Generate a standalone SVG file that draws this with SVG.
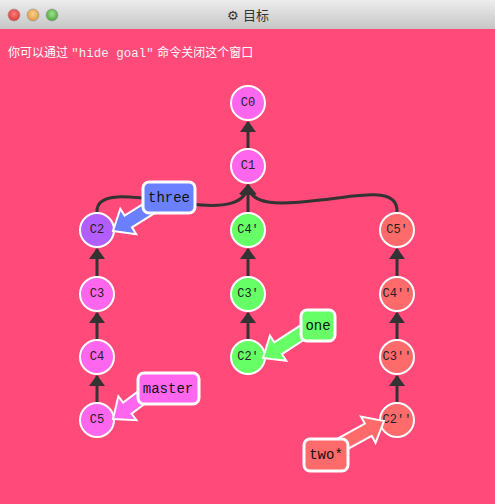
<svg xmlns="http://www.w3.org/2000/svg" width="495" height="504" viewBox="0 0 495 504">
<defs>
<linearGradient id="bar" x1="0" y1="0" x2="0" y2="1"><stop offset="0" stop-color="#ededed"/><stop offset="1" stop-color="#c6c6c6"/></linearGradient>
<radialGradient id="red" cx="0.5" cy="0.4" r="0.6"><stop offset="0" stop-color="#ff7a7a"/><stop offset="1" stop-color="#d93a3a"/></radialGradient>
<radialGradient id="yel" cx="0.5" cy="0.4" r="0.6"><stop offset="0" stop-color="#ffd08a"/><stop offset="1" stop-color="#d99a40"/></radialGradient>
<radialGradient id="grn" cx="0.5" cy="0.4" r="0.6"><stop offset="0" stop-color="#9be38a"/><stop offset="1" stop-color="#4ba43b"/></radialGradient>
<marker id="ah" viewBox="0 0 11 16" refX="10" refY="8" markerWidth="11" markerHeight="16" markerUnits="userSpaceOnUse" orient="auto">
<path d="M0,0 L11,8 L0,16 Z" fill="#333"/>
</marker>
<path id="fat" d="M0,0 L-18,-15 L-18,-7 L-58,-7 L-58,7 L-18,7 L-18,15 Z"/>
</defs>
<style>
.n{stroke:#fff;stroke-width:2}
.nt{font-family:"Liberation Mono","DejaVu Sans Mono",monospace;font-size:12px;fill:#222;text-anchor:middle;dominant-baseline:central}
.e{stroke:#333;stroke-width:3;fill:none}
.b{stroke:#fff;stroke-width:3}
.bt{font-family:"Liberation Mono","DejaVu Sans Mono",monospace;font-size:14px;fill:#111;text-anchor:middle;dominant-baseline:central}
.fa{stroke:#fff;stroke-width:2;stroke-linejoin:miter}
</style>
<rect width="495" height="504" fill="#ff4a7a"/>
<rect width="495" height="29" fill="url(#bar)"/>
<circle cx="14" cy="15" r="6" fill="url(#red)" stroke="#999" stroke-width="0.7"/>
<circle cx="33" cy="15" r="6" fill="url(#yel)" stroke="#999" stroke-width="0.7"/>
<circle cx="52" cy="15" r="6" fill="url(#grn)" stroke="#999" stroke-width="0.7"/>
<text x="248" y="20" font-family="'DejaVu Sans','Noto Sans CJK SC',sans-serif" font-size="13" fill="#333" text-anchor="middle">⚙ 目标</text>
<text x="8" y="57" font-family="'Liberation Sans','Noto Sans CJK SC',sans-serif" font-size="12" fill="#fff">你可以通过 <tspan font-family="'Liberation Mono',monospace" font-size="12.5" fill="#f0f0f0">"hide goal"</tspan> 命令关闭这个窗口</text>

<g id="connectors">
<path class="e" d="M248,148 L248,122" marker-end="url(#ah)"/>
<path class="e" d="M97,276 L97,249" marker-end="url(#ah)"/>
<path class="e" d="M97,339 L97,313" marker-end="url(#ah)"/>
<path class="e" d="M97,402 L97,376" marker-end="url(#ah)"/>
<path class="e" d="M248,212 L248,185" marker-end="url(#ah)"/>
<path class="e" d="M248,276 L248,249" marker-end="url(#ah)"/>
<path class="e" d="M248,339 L248,313" marker-end="url(#ah)"/>
<path class="e" d="M397,276 L397,249" marker-end="url(#ah)"/>
<path class="e" d="M397,339 L397,313" marker-end="url(#ah)"/>
<path class="e" d="M397,402 L397,376" marker-end="url(#ah)"/>
<path class="e" d="M97,212 C96,188 140,198 190,204 C225,208 246,204 248,185" marker-end="url(#ah)"/>
<path class="e" d="M397,212 C398,186 360,196 320,200 C280,205 250,206 248,185" marker-end="url(#ah)"/>
</g>

<g id="C0"><circle class="n" cx="248" cy="103" r="17" fill="#ff66ee"/><text class="nt" x="248" y="103">C0</text></g>
<g id="C1"><circle class="n" cx="248" cy="166" r="17" fill="#ff66ee"/><text class="nt" x="248" y="166">C1</text></g>
<g id="C2"><circle class="n" cx="97" cy="230" r="17" fill="#b25eff"/><text class="nt" x="97" y="230">C2</text></g>
<g id="C3"><circle class="n" cx="97" cy="294" r="17" fill="#ff66ee"/><text class="nt" x="97" y="294">C3</text></g>
<g id="C4"><circle class="n" cx="97" cy="357" r="17" fill="#ff66ee"/><text class="nt" x="97" y="357">C4</text></g>
<g id="C5"><circle class="n" cx="97" cy="420" r="17" fill="#ff66ee"/><text class="nt" x="97" y="420">C5</text></g>
<g id="C4p"><circle class="n" cx="248" cy="230" r="17" fill="#66ff66"/><text class="nt" x="248" y="230" font-size="10.5">C4'</text></g>
<g id="C3p"><circle class="n" cx="248" cy="294" r="17" fill="#66ff66"/><text class="nt" x="248" y="294" font-size="10.5">C3'</text></g>
<g id="C2p"><circle class="n" cx="248" cy="357" r="17" fill="#66ff66"/><text class="nt" x="248" y="357" font-size="10.5">C2'</text></g>
<g id="C5p"><circle class="n" cx="397" cy="230" r="17" fill="#ff6b6b"/><text class="nt" x="397" y="230" font-size="10.5">C5'</text></g>
<g id="C4pp"><circle class="n" cx="397" cy="294" r="17" fill="#ff6b6b"/><text class="nt" x="397" y="294" font-size="9.5">C4''</text></g>
<g id="C3pp"><circle class="n" cx="397" cy="357" r="17" fill="#ff6b6b"/><text class="nt" x="397" y="357" font-size="9.5">C3''</text></g>
<g id="C2pp"><circle class="n" cx="397" cy="420" r="17" fill="#ff6b6b"/><text class="nt" x="397" y="420" font-size="9.5">C2''</text></g>

<g id="three">
<use href="#fat" class="fa" fill="#6b80ff" transform="translate(113,231) rotate(148)"/>
<rect class="b" x="143" y="182" width="52" height="31" rx="6" fill="#6b80ff"/>
<text class="bt" x="169" y="198">three</text>
</g>
<g id="one">
<use href="#fat" class="fa" fill="#66ff66" transform="translate(263,358) rotate(147)"/>
<rect class="b" x="301" y="310" width="34" height="31" rx="6" fill="#66ff66"/>
<text class="bt" x="318" y="326">one</text>
</g>
<g id="master">
<use href="#fat" class="fa" fill="#ff66ee" transform="translate(113,419) rotate(143)"/>
<rect class="b" x="138" y="373" width="61" height="31" rx="6" fill="#ff66ee"/>
<text class="bt" x="168" y="389">master</text>
</g>
<g id="two">
<use href="#fat" class="fa" fill="#ff6b6b" transform="translate(384,421) rotate(-29)"/>
<rect class="b" x="304" y="439" width="44" height="32" rx="6" fill="#ff6b6b"/>
<text class="bt" x="326" y="455">two*</text>
</g>
</svg>
